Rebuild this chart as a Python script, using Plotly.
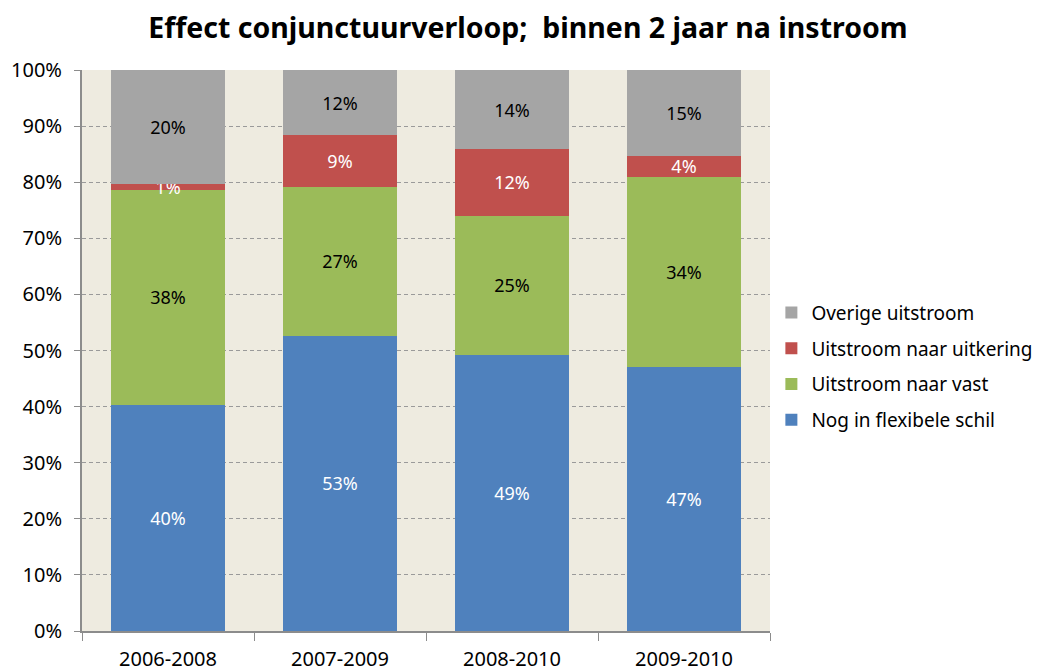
import plotly.graph_objects as go

periodes = ["2006-2008", "2007-2009", "2008-2010", "2009-2010"]

# aandelen (in %) per instroomcohort
nog_flexibel = [40.3, 52.6, 49.2, 47.1]
naar_vast = [38.3, 26.6, 24.8, 33.8]
naar_uitkering = [1.0, 9.2, 11.9, 3.8]
overige = [20.4, 11.6, 14.1, 15.3]

series = [
    ("Nog in flexibele schil", nog_flexibel, "#4F81BD", "white", 4),
    ("Uitstroom naar vast", naar_vast, "#9BBB59", "black", 3),
    ("Uitstroom naar uitkering", naar_uitkering, "#C0504D", "white", 2),
    ("Overige uitstroom", overige, "#A5A5A5", "black", 1),
]

fig = go.Figure()
for naam, waarden, kleur, tekstkleur, rang in series:
    fig.add_trace(go.Bar(
        x=periodes, y=waarden, name=naam, legendgroup=naam, legendrank=rang,
        marker=dict(color=kleur, line=dict(width=0)),
        text=[f"{round(v)}%" for v in waarden],
        textposition="inside", insidetextanchor="middle", textangle=0,
        insidetextfont=dict(color=tekstkleur, size=18),
    ))

# de pagina heeft 8px body-marge, daarom marges iets kleiner/groter
fig.update_layout(
    barmode="stack",
    bargap=0.34,
    width=1042, height=670,
    margin=dict(l=74, r=280, t=62, b=47, autoexpand=False),
    paper_bgcolor="white",
    plot_bgcolor="#EEEBE0",
    font=dict(family="Noto Sans, Open Sans, sans-serif", size=18, color="black"),
    uniformtext=dict(mode="show", minsize=18),
    title=dict(text="<b>Effect conjunctuurverloop;  binnen 2 jaar na instroom</b>",
               x=0.499, xanchor="center", y=0.97, yanchor="middle",
               font=dict(size=28.5)),
    legend=dict(traceorder="grouped", x=1.002, y=0.472, xanchor="left", yanchor="middle",
                font=dict(size=19), tracegroupgap=8, itemwidth=30,
                bgcolor="rgba(0,0,0,0)"),
    showlegend=True,
)
fig.update_yaxes(range=[0, 100], dtick=10, ticksuffix="%", automargin=False,
                 showgrid=True, gridcolor="#9A9A9A", griddash="4px,3px", gridwidth=1,
                 showline=True, linecolor="#8C8C8C", linewidth=2,
                 ticks="outside", ticklen=6, tickcolor="#8C8C8C", ticklabelstandoff=8,
                 tickfont=dict(size=20), zeroline=False)
fig.update_xaxes(showline=True, linecolor="#8C8C8C", linewidth=2, automargin=False,
                 ticks="outside", tickson="boundaries", ticklen=8, tickcolor="#8C8C8C",
                 ticklabelstandoff=9, tickfont=dict(size=20))

fig.write_html("out.html")
